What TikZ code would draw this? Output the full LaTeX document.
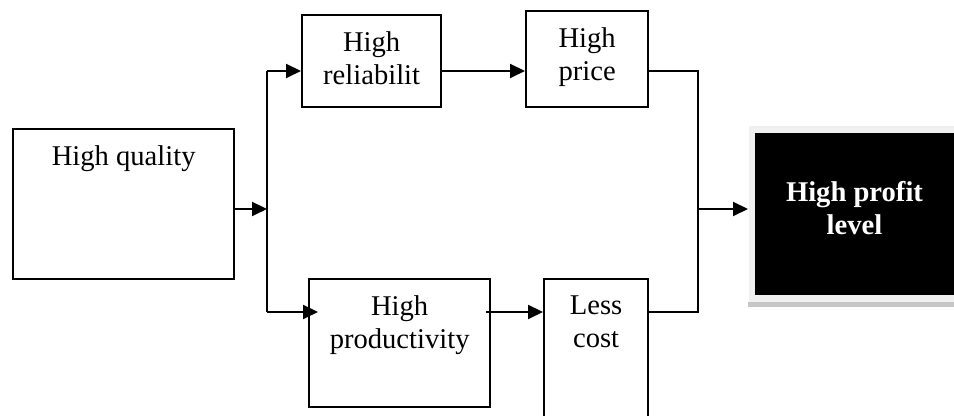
\documentclass[tikz,border=0pt]{standalone}
\usepackage{fontspec}
\setmainfont{Liberation Serif}
\usetikzlibrary{positioning}
\usetikzlibrary{calc}
\usetikzlibrary{arrows.meta}

\tikzset{
blk/.style={draw,line width=1.15pt,inner sep=0pt,anchor=north west},
txt/.style={anchor=north,inner sep=0pt,yshift=-8.25pt,align=center},
arr/.style={-{Triangle[length=7.5pt,width=7pt]}},
}

\begin{document}
\begin{tikzpicture}[x=0.5pt,y=-0.5pt,line width=1pt,font=\fontsize{14.3}{16.5}\selectfont]
\useasboundingbox (0,0) rectangle (954,416);

\node[blk,minimum width=110.5pt,minimum height=75pt,label={[txt]north:High quality}](hq) at (12,128){};
\node[blk,minimum width=69.5pt,minimum height=46pt,label={[txt]north:{High\\reliabilit}}](rel) at (301,14){};
\node[blk,minimum width=61pt,minimum height=48pt,label={[txt]north:{High\\price}}](price) at (525,10){};
\node[blk,minimum width=90.5pt,minimum height=64pt,label={[txt]north:{High\\productivity}}](prod) at (308,278){};
\node[blk,minimum width=52pt,minimum height=73.5pt,label={[txt]north:{Less\\cost}}](cost) at (543,278){};

% shadowed frame of the result
\node[fill=gray!12,inner sep=0pt,anchor=north west,minimum width=103.5pt,minimum height=89pt](pframe) at (748,125){};
\fill[gray!45] (748,302) rectangle (954,307);
\node[fill=black,inner sep=0pt,anchor=north west,minimum width=99.5pt,minimum height=81pt,
label={[anchor=north,inner sep=0pt,yshift=-24.25pt,align=center,text=white,font=\fontsize{14.3}{16.5}\selectfont\bfseries]north:{High profit\\level}}](profit) at (754,132){};

\coordinate(split) at (267,209);
\coordinate(jtop) at (267,71);
\coordinate(jbot) at (267,312);
\coordinate(merge) at (698,209);
\coordinate(mtop) at (698,71);
\coordinate(mbot) at (698,312);

\draw[arr] (hq.east |- split) -- (split);
\draw (jtop) -- (jbot);
\draw[arr] (jtop) -- (jtop -| rel.west);
\draw[arr] (jbot) -- ($(jbot -| prod.west)+(10,0)$);
\draw[arr] (rel.east |- jtop) -- (price.west |- jtop);
\draw (price.east |- mtop) -- (mtop) -- (mbot) -- (cost.east |- mbot);
\draw[arr] ($(prod.east |- mbot)+(-5,0)$) -- (cost.west |- mbot);
\draw[arr] (merge) -- (merge -| pframe.west);
\end{tikzpicture}
\end{document}
